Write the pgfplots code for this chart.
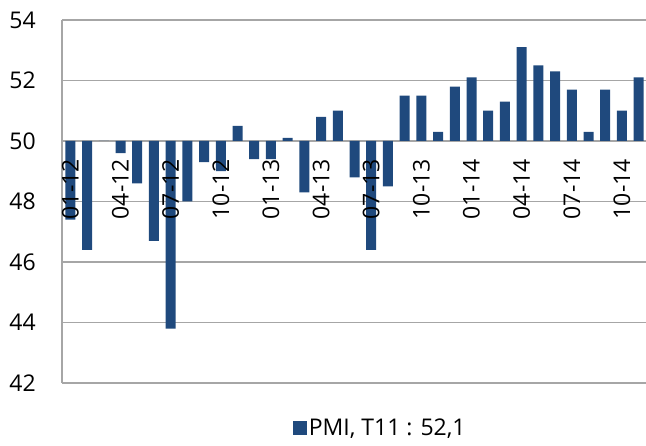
\documentclass[border=0pt]{standalone}
\usepackage{fontspec}
\setmainfont{Open Sans}
\usepackage{pgfplots}
\pgfplotsset{compat=1.18}
\definecolor{pmiblue}{HTML}{1F497D}
\definecolor{gridgray}{HTML}{A6A6A6}

% tick labels above the bars, grid below them
\pgfplotsset{
    layers/labelsontop/.define layer set={
        axis background,axis grid,axis ticks,axis lines,main,
        axis tick labels,axis descriptions,axis foreground
    }{/pgfplots/layers/standard},
}

\begin{document}
\begin{tikzpicture}
\begin{axis}[
    set layers=labelsontop,
    at={(62pt,62pt)}, anchor=south west,
    scale only axis,
    width=585pt, height=363pt,
    font=\fontsize{23}{27}\selectfont,
    /pgf/number format/assume math mode=true,
    y coord trafo/.code={\pgfmathparse{#1-50}},
    y coord inv trafo/.code={\pgfmathparse{#1+50}},
    xmin=-0.5, xmax=34.5,
    ymin=42, ymax=54,
    axis x line=middle,
    axis y line=left,
    axis line style={draw=gridgray, line width=1.2pt, -},
    ytick={42,44,46,48,50,52,54},
    yticklabels={42,44,46,48,50,52,54},
    ymajorgrids=true,
    grid style={draw=gridgray, line width=1.2pt},
    major tick length=0pt,
    xtick={0,3,...,33},
    xticklabels={01-12,04-12,07-12,10-12,01-13,04-13,07-13,10-13,01-14,04-14,07-14,10-14},
    xticklabel style={rotate=90, anchor=east, inner sep=0pt, xshift=-18pt},
    yticklabel style={anchor=east, inner sep=0pt, xshift=-26pt},
    legend style={at={(0.544,-0.124)}, anchor=center, draw=none, fill=none,
        font=\fontsize{23}{27}\selectfont},
    legend image code/.code={\fill[pmiblue] (0pt,-7pt) rectangle (14pt,7pt);},
    clip=false,
]
\addplot[ybar, bar width=10pt, fill=pmiblue, draw=none]
coordinates {
(0,47.4)(1,46.4)(2,50.0)(3,49.6)(4,48.6)(5,46.7)(6,43.8)(7,48.0)
(8,49.3)(9,49.0)(10,50.5)(11,49.4)(12,49.4)(13,50.1)(14,48.3)(15,50.8)
(16,51.0)(17,48.8)(18,46.4)(19,48.5)(20,51.5)(21,51.5)(22,50.3)(23,51.8)
(24,52.1)(25,51.0)(26,51.3)(27,53.1)(28,52.5)(29,52.3)(30,51.7)(31,50.3)
(32,51.7)(33,51.0)(34,52.1)
};
\addlegendentry{PMI, T11 : 52,1}
\end{axis}
\pgfresetboundingbox
\useasboundingbox (0,0) rectangle (646pt,445pt);
\end{tikzpicture}
\end{document}
